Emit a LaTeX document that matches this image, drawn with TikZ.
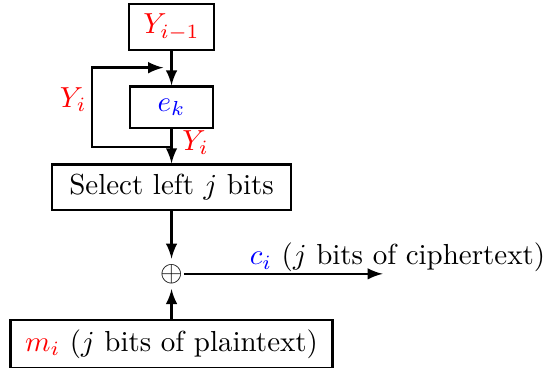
\documentclass[tikz,border=0pt]{standalone}
\usetikzlibrary{arrows}
\tikzset{blk/.style={draw,thick,minimum width=1cm,minimum height=0.5cm,inner xsep=5pt}}
\begin{document}
\begin{tikzpicture}[>=latex,thick]
	\useasboundingbox (0,0) rectangle (6.62,4.46);
	\node[blk] (prev) at (2.08,4.13) {\color{red}$Y_{i-1}$};
	\node[blk] (ek) at (2.08,3.16) {\color{blue}$e_k$};
	\node[blk,minimum width=2.9cm] (sel) at (2.08,2.19) {Select left $j$ bits};
	\node[inner xsep=0pt,inner ysep=1.5pt] (xor) at (2.08,1.14) {$\oplus$};
	\node[blk,minimum width=3.85cm] (msg) at (2.08,0.29) {{\color{red}$m_i$} ($j$ bits of plaintext)};
	\coordinate (split) at (2.08,2.68);
	\coordinate (join) at (1.98,3.64);
	\coordinate (out) at (4.64,1.14);
	\draw[->] (prev) -- (ek);
	\draw[->] (ek) -- node[right,red,pos=0.4] {$Y_i$} (sel);
	\draw[->] (split) -- (1.115,2.68) -- node[left,red,pos=0.6,inner sep=1.5pt] {$Y_i$} (1.115,3.64) -- (join);
	\draw[->] (sel) -- (xor);
	\draw[->] (msg) -- (xor);
	\draw[->] (xor) -- (out);
	\node[anchor=base] (ct) at (4.82,1.25) {{\color{blue}$c_i$} ($j$ bits of ciphertext)};
\end{tikzpicture}
\end{document}
